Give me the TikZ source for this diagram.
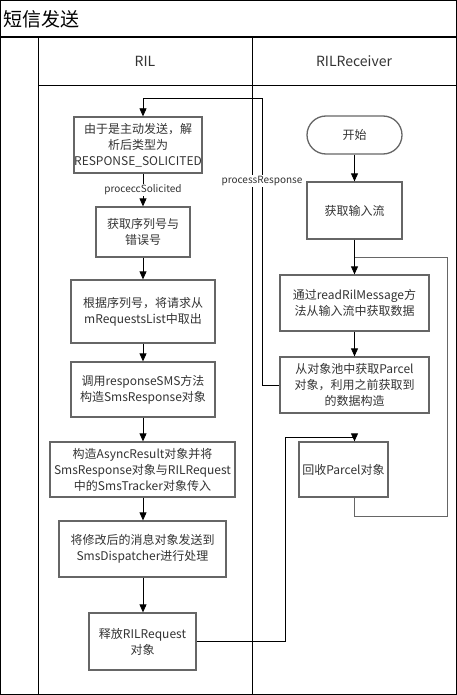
\documentclass[tikz,border=0pt]{standalone}
\usepackage{fontspec}
\setmainfont{Noto Sans CJK SC}
\usepackage{tikz}
\usetikzlibrary{arrows.meta, positioning}
\definecolor{boxgray}{rgb}{0.4, 0.4, 0.4}
\definecolor{textgray}{rgb}{0.2, 0.2, 0.2}

\begin{document}
\begin{tikzpicture}[x=1pt, y=-1pt,
		stepbox/.style={draw=boxgray, line width=1.3pt, text=textgray, align=center, inner sep=0pt,
			font=\fontsize{12}{16}\selectfont},
		arr/.style={-{Triangle[length=8pt, width=7pt]}, line width=0.8pt},
		lbl/.style={fill=white, inner sep=1pt, text=textgray, font=\fontsize{10}{12}\selectfont}]
		\useasboundingbox (0,0) rectangle (457,695);
		% frame of the swimlanes
		\draw [line width=1pt] (0.5,0.5) rectangle (456.5,694.5);
		\draw [line width=2pt] (0,37) -- (457,37);
		\draw [line width=1pt] (38,37) -- (38,695);
		\draw [line width=1pt] (252,37) -- (252,695);
		\draw [line width=1pt] (38,86) -- (457,86);
		\node [anchor=west, inner sep=0pt, font=\fontsize{19}{22}\selectfont] (title) at (3,19) {短信发送};
		\node [text=textgray, font=\fontsize{14}{16}\selectfont] (ril) at (145,61) {RIL};
		\node [text=textgray, font=\fontsize{14}{16}\selectfont] (rilrecv) at (354,61) {RILReceiver};

		% RIL lane
		\node [stepbox, minimum width=128pt, minimum height=56pt] (b1) at (138,145) {由于是主动发送，解\\析后类型为\\RESPONSE\_SOLICITED};
		\node [stepbox, minimum width=94pt, minimum height=50pt] (b2) at (143,232) {获取序列号与\\错误号};
		\node [stepbox, minimum width=144pt, minimum height=63pt] (b3) at (143,311.5) {根据序列号，将请求从\\mRequestsList中取出};
		\node [stepbox, minimum width=144pt, minimum height=55pt] (b4) at (143,389.5) {调用responseSMS方法\\构造SmsResponse对象};
		\node [stepbox, minimum width=185pt, minimum height=55pt] (b5) at (142.5,469.5) {构造AsyncResult对象并将\\SmsResponse对象与RILRequest\\中的SmsTracker对象传入};
		\node [stepbox, minimum width=167pt, minimum height=56pt] (b6) at (142.5,549) {将修改后的消息对象发送到\\SmsDispatcher进行处理};
		\node [stepbox, minimum width=107pt, minimum height=57pt] (b7) at (142.5,641.5) {释放RILRequest\\对象};

		% RILReceiver lane
		\node [stepbox, rounded corners=19pt, minimum width=95pt, minimum height=38pt] (start) at (354.5,135) {开始};
		\node [stepbox, minimum width=95pt, minimum height=57pt] (r1) at (354.5,210.5) {获取输入流};
		\node [stepbox, minimum width=149pt, minimum height=56pt] (r2) at (354.5,303) {通过readRilMessage方\\法从输入流中获取数据};
		\node [stepbox, minimum width=149pt, minimum height=56pt] (r3) at (354.5,385) {从对象池中获取Parcel\\对象，利用之前获取到\\的数据构造};
		\node [stepbox, minimum width=89pt, minimum height=55pt] (r4) at (343.5,469.5) {回收Parcel对象};

		\coordinate (pr) at (262,98);
		\coordinate (lp) at (447,257);
		\coordinate (rc) at (285,437);

		% arrows
		\draw [arr] (b1.south -| b2.north) -- node [lbl] {proceccSolicited} (b2.north);
		\draw [arr] (b2) -- (b3);
		\draw [arr] (b3) -- (b4);
		\draw [arr] (b4.south) -- (b4.south |- b5.north);
		\draw [arr] (b4.south |- b5.south) -- (b4.south |- b6.north);
		\draw [arr] (b4.south |- b6.south) -- (b4.south |- b7.north);
		\draw [arr] (r3.west) -- (r3.west -| pr) -- node [lbl, pos=0.71] {processResponse} (pr) -- (pr -| b2.north) -- (b1.north -| b2.north);
		\draw [arr] (start) -- (r1);
		\draw [arr] (r1) -- (r2);
		\draw [arr] (r2) -- (r3);
		\draw [line width=1pt, draw=boxgray] (r3.south |- r4.south) -- (r3.south |- 0,516) -| (lp) -- (lp -| r1.south);
		\draw [arr] (b7.east) -| (rc) -- (rc -| r3.south) -- (r3.south |- r4.north);
\end{tikzpicture}
\end{document}
